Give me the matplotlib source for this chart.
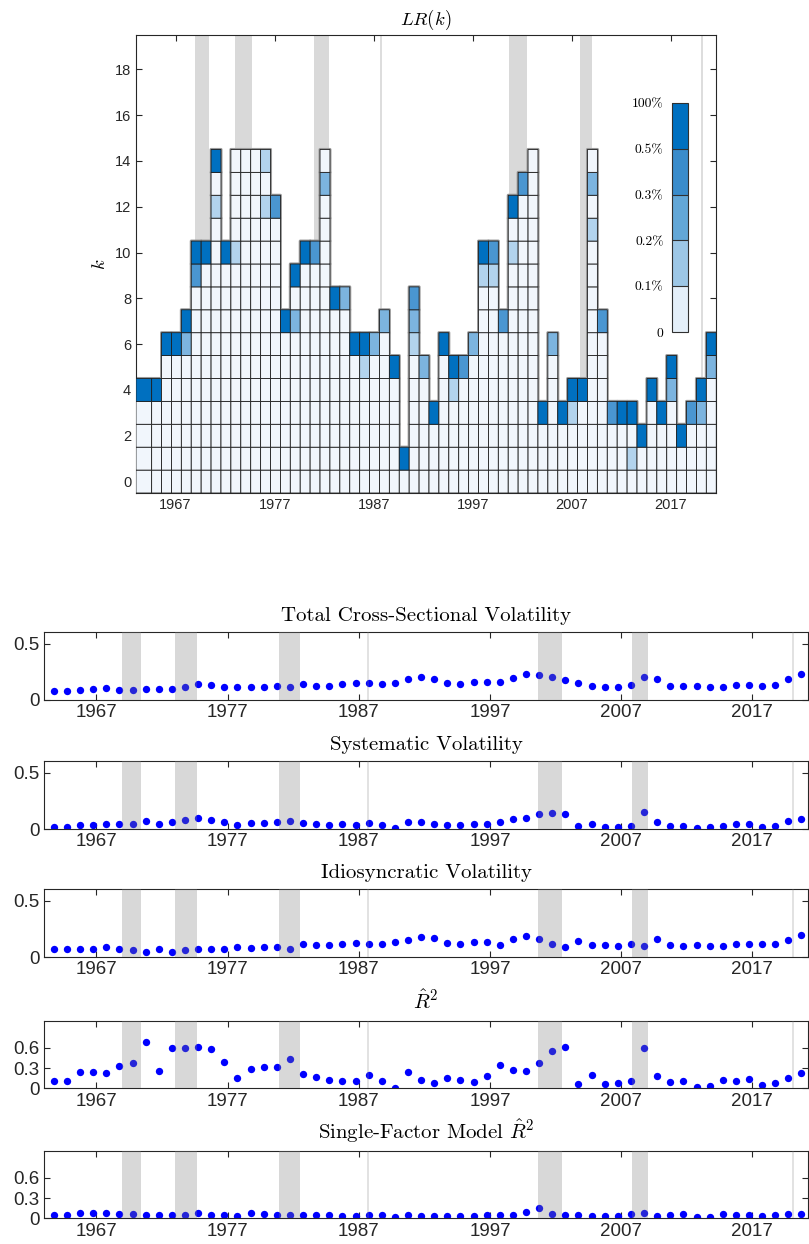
import numpy as np
import matplotlib
matplotlib.use('Agg')
import matplotlib.pyplot as plt
from matplotlib.colors import ListedColormap, BoundaryNorm
from matplotlib.cm import ScalarMappable

plt.rcParams['font.family'] = ['Liberation Sans', 'DejaVu Sans']
plt.rcParams['mathtext.fontset'] = 'cm'

years = np.arange(1964, 2022)

# LR(k) colour level of each cell, k = 0 upward, one string per year
# 0: <0.1%, 1: 0.1-0.2%, 2: 0.2-0.3%, 3: 0.3-0.5%, 4: >0.5%
lr_levels = [
    '00004', '00004', '0000004', '0000004', '00000024',
    '00000000034', '00000000004', '000000000000104', '00000000004', '000000000010000',
    '000000000000000', '000000000000000', '000000000000101', '0000000000003', '00000004',
    '0000000204', '00000000004', '00000000003', '000000000000020', '000000004',
    '000000002', '0000004', '0000014', '0000002', '00000002',
    '000004', '04', '000000123', '000002', '0004',
    '0000004', '000014', '000003', '0000002', '00000000014',
    '00000000013', '00000003', '0000000000104', '00000000000003', '000000000000000',
    '0004', '0000002', '0004', '00014', '00004',
    '000000000001020', '00000003', '0003', '0004', '0104',
    '004', '00004', '0004', '000024', '004',
    '0003', '00024', '0000024',
]
bar_labels = ['0', '0.1%', '0.2%', '0.3%', '0.5%', '100%']

# recession shading and single shock lines
rec_start = [1968.92, 1973.02, 1980.92, 2000.65, 2007.8]
rec_end = [1970.42, 1974.67, 1982.52, 2002.5, 2009.02]
shock_lines = [1987.72, 2020.12]

tot_vol = [0.081, 0.084, 0.090, 0.096, 0.108, 0.090, 0.087, 0.099, 0.096, 0.093,
           0.117, 0.138, 0.132, 0.111, 0.111, 0.117, 0.117, 0.123, 0.117, 0.141,
           0.126, 0.126, 0.138, 0.147, 0.150, 0.144, 0.147, 0.186, 0.204, 0.189,
           0.150, 0.138, 0.159, 0.159, 0.162, 0.195, 0.234, 0.225, 0.201, 0.177,
           0.153, 0.126, 0.117, 0.111, 0.132, 0.204, 0.189, 0.126, 0.123, 0.123,
           0.114, 0.117, 0.132, 0.132, 0.126, 0.132, 0.186, 0.234]
sys_vol = [0.016, 0.016, 0.034, 0.037, 0.043, 0.046, 0.046, 0.070, 0.043, 0.061,
           0.076, 0.094, 0.082, 0.058, 0.031, 0.052, 0.052, 0.061, 0.067, 0.052,
           0.046, 0.037, 0.040, 0.037, 0.052, 0.037, 0.006, 0.064, 0.060, 0.045,
           0.038, 0.038, 0.040, 0.045, 0.060, 0.085, 0.100, 0.135, 0.145, 0.135,
           0.030, 0.040, 0.020, 0.020, 0.030, 0.150, 0.065, 0.030, 0.030, 0.010,
           0.020, 0.030, 0.040, 0.040, 0.020, 0.030, 0.070, 0.090]
idio_vol = [0.067, 0.070, 0.070, 0.073, 0.088, 0.067, 0.064, 0.043, 0.070, 0.046,
            0.064, 0.070, 0.073, 0.070, 0.091, 0.082, 0.085, 0.088, 0.073, 0.113,
            0.104, 0.104, 0.119, 0.125, 0.119, 0.119, 0.137, 0.150, 0.177, 0.168,
            0.125, 0.119, 0.137, 0.131, 0.110, 0.156, 0.183, 0.156, 0.116, 0.085,
            0.140, 0.104, 0.104, 0.095, 0.113, 0.095, 0.162, 0.110, 0.101, 0.107,
            0.101, 0.098, 0.113, 0.113, 0.113, 0.113, 0.150, 0.192]
r2 = [0.11, 0.11, 0.235, 0.235, 0.22, 0.33, 0.37, 0.68, 0.26, 0.60,
      0.60, 0.61, 0.58, 0.39, 0.147, 0.29, 0.32, 0.32, 0.43, 0.21,
      0.17, 0.13, 0.11, 0.11, 0.19, 0.11, 0.0, 0.24, 0.12, 0.075,
      0.15, 0.12, 0.09, 0.18, 0.34, 0.265, 0.255, 0.375, 0.55, 0.61,
      0.063, 0.19, 0.06, 0.085, 0.11, 0.60, 0.18, 0.10, 0.105, 0.015,
      0.04, 0.13, 0.11, 0.14, 0.045, 0.085, 0.16, 0.22]
r2_single = [0.045, 0.045, 0.075, 0.085, 0.085, 0.06, 0.07, 0.055, 0.055, 0.05,
             0.055, 0.08, 0.055, 0.05, 0.03, 0.075, 0.07, 0.045, 0.05, 0.05,
             0.045, 0.05, 0.03, 0.04, 0.05, 0.045, 0.02, 0.045, 0.04, 0.04,
             0.04, 0.04, 0.03, 0.045, 0.055, 0.05, 0.10, 0.16, 0.065, 0.045,
             0.045, 0.04, 0.035, 0.04, 0.06, 0.075, 0.04, 0.05, 0.06, 0.025,
             0.025, 0.06, 0.045, 0.045, 0.035, 0.05, 0.06, 0.07]

cell_colors = ['#f1f6fc', '#b2d3ed', '#7cb4df', '#4a96d1', '#0070c0']
bar_colors = ['#e4eff9', '#9dc7e6', '#63a7d7', '#3a8ccb', '#0070c0']
ink = '#262626'
cm_font = 'cmr10'

fig = plt.figure(figsize=(8.09, 12.44), dpi=100)

# ---- LR(k) heat map ----
nk = 20
Z = np.full((nk, len(years)), np.nan)
for j, s in enumerate(lr_levels):
    for k, c in enumerate(s):
        Z[k, j] = int(c)
Zm = np.ma.masked_invalid(Z)
xe = np.r_[1963.0, years[1:] - 0.42, years[-1] + 0.58]
ye = np.arange(nk + 1) - 0.5
norm = BoundaryNorm(np.arange(6) - 0.5, 5)
cmap = ListedColormap(cell_colors)

ax = fig.add_axes([0.1681, 0.6037, 0.7169, 0.3682])
for s, e in zip(rec_start, rec_end):
    ax.axvspan(s, e, color='#d9d9d9', lw=0, zorder=0)
for x in shock_lines:
    ax.axvline(x, color='#dadada', lw=1.3, zorder=0)
ax.pcolor(xe, ye, Zm, cmap=cmap, norm=norm, edgecolors='#9a9a9a', linewidth=2.2, zorder=2)
ax.pcolor(xe, ye, Zm, cmap=cmap, norm=norm, edgecolors='#1e1e1e', linewidth=0.6, zorder=3)
ax.set_xlim(1963, 2021.55)
ax.set_ylim(-0.5, 19.5)
ax.set_xticks(np.arange(1967, 2018, 10))
ax.set_yticks(np.arange(0, 19, 2))
ax.tick_params(direction='in', top=True, right=True, labelsize=10.5, colors=ink, length=4)
for sp in ax.spines.values():
    sp.set_color(ink)
ax.set_title(r'$LR(k)$', fontsize=13.5, pad=7.5)
ax.set_ylabel(r'$k$', fontsize=13.5)

cax = fig.add_axes([0.8306, 0.7331, 0.0198, 0.1841])
cb = fig.colorbar(ScalarMappable(norm=BoundaryNorm(np.arange(6), 5), cmap=ListedColormap(bar_colors)),
                  cax=cax, ticks=np.arange(6), drawedges=True)
cb.ax.set_yticklabels(bar_labels, fontname=cm_font, fontsize=9.8)
cax.yaxis.set_ticks_position('left')
cax.tick_params(length=0, pad=6)
cb.dividers.set_color('#303030')
cb.dividers.set_linewidth(0.8)
cb.outline.set_edgecolor('#303030')

# ---- time series panels ----
xs = years - 0.25
panels = [
    (tot_vol, 'Total Cross-Sectional Volatility', [0, 0.5], ['0', '0.5'], 0.6, 0.4373),
    (sys_vol, 'Systematic Volatility', [0, 0.5], ['0', '0.5'], 0.6, 0.3336),
    (idio_vol, 'Idiosyncratic Volatility', [0, 0.5], ['0', '0.5'], 0.6, 0.2307),
    (r2, r'$\hat{R}^2$', [0, 0.3, 0.6], ['0', '0.3', '0.6'], 1.0, 0.1251),
    (r2_single, r'Single-Factor Model $\hat{R}^2$', [0, 0.3, 0.6], ['0', '0.3', '0.6'], 1.0, 0.0206),
]
for vals, title, yt, ytl, ytop, bottom in panels:
    a = fig.add_axes([0.0544, bottom, 0.9444, 0.0545])
    a.scatter(xs, vals, s=28, color='#0000ff', lw=0, zorder=2)
    for s, e in zip(rec_start, rec_end):
        a.axvspan(s, e, color='#808080', alpha=0.3, lw=0, zorder=3)
    for x in shock_lines:
        a.axvline(x, color='#808080', alpha=0.25, lw=1.3, zorder=3)
    a.set_xlim(1963, 2021.25)
    a.set_ylim(0, ytop)
    a.set_xticks(np.arange(1967, 2018, 10))
    a.set_yticks(yt)
    a.set_yticklabels(ytl)
    a.tick_params(direction='in', top=True, right=True, labelsize=13.5, colors=ink, length=4, pad=3)
    for sp in a.spines.values():
        sp.set_color(ink)
    a.set_title(title, fontname=cm_font, fontsize=15, pad=8)

fig.savefig('out.png', dpi=100)
